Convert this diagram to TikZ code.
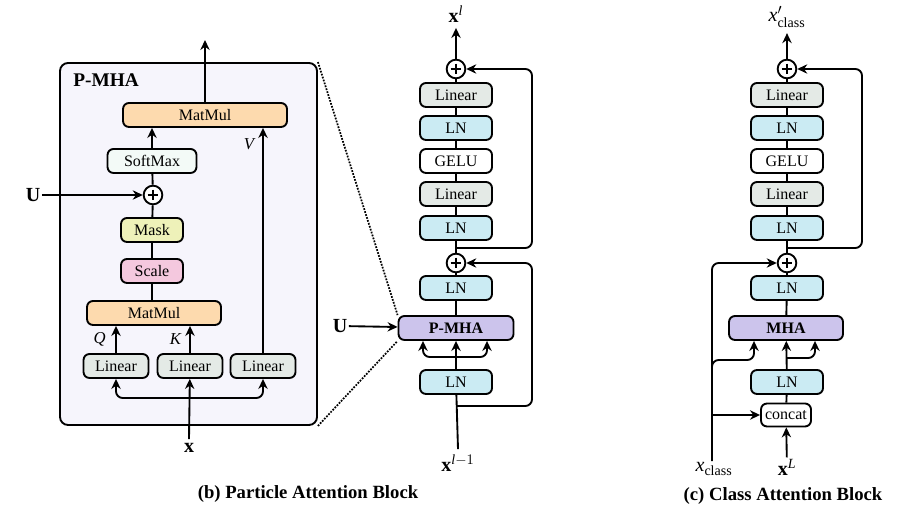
\documentclass[tikz,border=0pt]{standalone}
\usepackage{amsmath}
\usepackage{fontspec}
\setmainfont{Liberation Serif}
\usetikzlibrary{arrows.meta, calc, positioning}

\definecolor{linfill}{HTML}{E4EAE6}
\definecolor{lnfill}{HTML}{CBEBF3}
\definecolor{attfill}{HTML}{CCC4EC}
\definecolor{mmfill}{HTML}{FDDAAE}
\definecolor{smfill}{HTML}{F3FAF7}
\definecolor{maskfill}{HTML}{EEF1B9}
\definecolor{scalefill}{HTML}{F4C8DE}
\definecolor{panelfill}{HTML}{F6F5FC}

\tikzset{
  blk/.style={draw, rounded corners=4.5pt, line width=1.4pt, inner sep=0pt,
    minimum width=54pt, minimum height=18pt, font=\fontsize{12}{14}\selectfont},
  addnode/.style={circle, draw, fill=white, line width=1.4pt, minimum size=14pt, inner sep=0pt,
    path picture={
      \draw[line width=1.3pt] ([yshift=-3pt]path picture bounding box.north) -- ([yshift=3pt]path picture bounding box.south);
      \draw[line width=1.3pt] ([xshift=3pt]path picture bounding box.west) -- ([xshift=-3pt]path picture bounding box.east);}},
  lbl/.style={font=\fontsize{15}{17}\selectfont, inner sep=1pt},
  qkvlbl/.style={font=\fontsize{12.5}{14}\selectfont\itshape, inner sep=1pt},
  captext/.style={font=\fontsize{14}{16}\selectfont\bfseries},
  arr/.style={-{Stealth[length=7.5pt, width=7pt]}, line width=1.4pt},
  wire/.style={line width=1.4pt},
}

\begin{document}
\begin{tikzpicture}[x=0.75pt, y=-0.75pt]
  \useasboundingbox (0,0) rectangle (907,509);

  % P-MHA panel
  \node[draw, rounded corners=6pt, line width=1.4pt, fill=panelfill,
    minimum width=192.75pt, minimum height=271.5pt] (panel) at (188.5,244) {};
  \node[font=\fontsize{14.5}{16}\selectfont\bfseries, anchor=west, inner sep=0pt] (ptitle) at (73,80) {P-MHA};

  \node[blk, fill=mmfill, minimum width=123pt] (mmtop) at (205,115) {MatMul};
  \node[blk, fill=smfill, minimum width=66.75pt] (soft) at (152,161) {SoftMax};
  \node[addnode] (addu) at (153,195) {};
  \node[blk, fill=maskfill, minimum width=46.5pt] (mask) at (152,230) {Mask};
  \node[blk, fill=scalefill, minimum width=46.5pt] (scale) at (152,271) {Scale};
  \node[blk, fill=mmfill, minimum width=100.5pt] (mmbot) at (154,313) {MatMul};
  \node[blk, fill=linfill, minimum width=48.75pt] (linq) at (116,366) {Linear};
  \node[blk, fill=linfill, minimum width=48.75pt] (link) at (190,366) {Linear};
  \node[blk, fill=linfill, minimum width=48.75pt] (linv) at (263,366) {Linear};
  \node[lbl] (xin) at (189,448) {\textbf{x}};
  \node[lbl] (uin) at (33,195) {\textbf{U}};
  \coordinate (pout) at (205,40);
  \coordinate (qkv) at (189,398);

  % P-MHA connections
  \draw[arr] (mmtop) -- (pout);
  \draw[arr] (soft.north) -- (soft.north |- mmtop.south);
  \draw[wire] (addu) -- (soft);
  \draw[wire] (mask) -- (addu);
  \draw[wire] (scale) -- (mask);
  \draw[wire] (scale.south) -- (scale.south |- mmbot.north);
  \draw[arr] (uin) -- (addu);
  \draw[arr] (linq) -- (linq.north |- mmbot.south) node[qkvlbl, midway, left=6pt] {Q};
  \draw[arr] (link) -- (link.north |- mmbot.south) node[qkvlbl, midway, left=5pt] {K};
  \draw[arr] (linv) -- (linv.north |- mmtop.south) node[qkvlbl, pos=0.93, left=5pt] {V};
  \draw[arr] ([yshift=2pt]xin.north) -- (link);
  \draw[arr, rounded corners=5pt] (qkv) -| (linq);
  \draw[arr, rounded corners=5pt] (qkv) -| (linv);

  % Particle attention block
  \node[lbl] (xl) at (456,14) {$\textbf{x}^{\textit{l}}$};
  \node[addnode] (res2) at (456,69) {};
  \node[blk, fill=linfill] (lin2) at (456,95) {Linear};
  \node[blk, fill=lnfill] (ln4) at (456,128) {LN};
  \node[blk, fill=white] (gelu) at (456,161) {GELU};
  \node[blk, fill=linfill] (lin1) at (456,194) {Linear};
  \node[blk, fill=lnfill] (ln3) at (456,228) {LN};
  \node[addnode] (res1) at (456,263) {};
  \node[blk, fill=lnfill] (ln2) at (456,288) {LN};
  \node[blk, fill=attfill, minimum width=86.25pt, font=\fontsize{12}{14}\selectfont\bfseries] (pmha) at (456,328) {P-MHA};
  \node[blk, fill=lnfill] (ln1) at (456,382) {LN};
  \node[lbl] (xprev) at (458,463) {$\textbf{x}^{\textit{l}-1}$};
  \node[lbl] (upm) at (340,326) {\textbf{U}};
  \coordinate (skipa) at (456,248);
  \coordinate (skipb) at (456,406);
  \coordinate (fork) at (456,357);

  \draw[arr] (res2) -- ([yshift=-3pt]xl.south);
  \draw[wire] (lin2) -- (res2);
  \draw[wire] (ln4) -- (lin2);
  \draw[wire] (gelu) -- (ln4);
  \draw[wire] (lin1) -- (gelu);
  \draw[wire] (ln3) -- (lin1);
  \draw[wire] (res1) -- (ln3);
  \draw[wire] (ln2) -- (res1);
  \draw[wire] (pmha) -- (ln2);
  \draw[arr, rounded corners=5pt] (skipa) -- ++(76,0) |- (res2);
  \draw[arr] (ln1) -- (pmha);
  \draw[arr, rounded corners=5pt] (fork) -| ($(pmha.south)+(-33,0)$);
  \draw[arr, rounded corners=5pt] (fork) -| ($(pmha.south)+(31,0)$);
  \draw[wire] ([yshift=3pt]xprev.north) -- (ln1);
  \draw[arr, rounded corners=5pt] (skipb) -- ++(76,0) |- (res1);
  \draw[arr] (upm) -- (pmha);
  \draw[densely dotted, line width=1.3pt] (panel.north east) -- (pmha.north west);
  \draw[densely dotted, line width=1.3pt] (panel.south east) -- (pmha.south west);

  % Class attention block
  \node[lbl] (xcout) at (787,17) {$\textit{x}'_{\textrm{class}}$};
  \node[addnode] (res4) at (787,69) {};
  \node[blk, fill=linfill] (lin4) at (787,95) {Linear};
  \node[blk, fill=lnfill] (ln8) at (787,128) {LN};
  \node[blk, fill=white] (gelu2) at (787,161) {GELU};
  \node[blk, fill=linfill] (lin3) at (787,194) {Linear};
  \node[blk, fill=lnfill] (ln7) at (787,228) {LN};
  \node[addnode] (res3) at (787,263) {};
  \node[blk, fill=lnfill] (ln6) at (787,288) {LN};
  \node[blk, fill=attfill, minimum width=85.5pt, font=\fontsize{12}{14}\selectfont\bfseries] (mha) at (786,328) {MHA};
  \node[blk, fill=lnfill] (ln5) at (787,382) {LN};
  \node[blk, fill=white, minimum width=37.5pt, minimum height=17.25pt] (cat) at (786,415) {concat};
  \node[lbl] (xlast) at (787,467) {$\textbf{x}^{\textit{L}}$};
  \node[lbl] (xcls) at (714,469) {$\textit{x}_{\textrm{class}}$};
  \coordinate (skipc) at (787,248);
  \coordinate (mfork) at (787,358);
  \coordinate (clsfork) at (712,360);

  \draw[arr] (res4) -- ([yshift=-3pt]xcout.south);
  \draw[wire] (lin4) -- (res4);
  \draw[wire] (ln8) -- (lin4);
  \draw[wire] (gelu2) -- (ln8);
  \draw[wire] (lin3) -- (gelu2);
  \draw[wire] (ln7) -- (lin3);
  \draw[wire] (res3) -- (ln7);
  \draw[wire] (ln6) -- (res3);
  \draw[wire] (mha) -- (ln6);
  \draw[arr, rounded corners=5pt] (skipc) -- ++(75,0) |- (res4);
  \draw[wire] (cat) -- (ln5);
  \draw[arr] (ln5) -- (mha);
  \draw[arr, rounded corners=5pt] (mfork) -| ($(mha.south)+(29,0)$);
  \draw[arr] (xlast) -- (cat);
  \draw[arr, rounded corners=5pt] (clsfork |- xcls.north) |- (res3);
  \draw[arr, rounded corners=5pt] ([yshift=-10pt]clsfork) -- (clsfork) -| ($(mha.south)+(-32,0)$);
  \draw[arr] (clsfork |- cat) -- (cat);

  % Captions
  \node[captext] (capb) at (308,494) {(b) Particle Attention Block};
  \node[captext] (capc) at (783,496) {(c) Class Attention Block};
\end{tikzpicture}
\end{document}
